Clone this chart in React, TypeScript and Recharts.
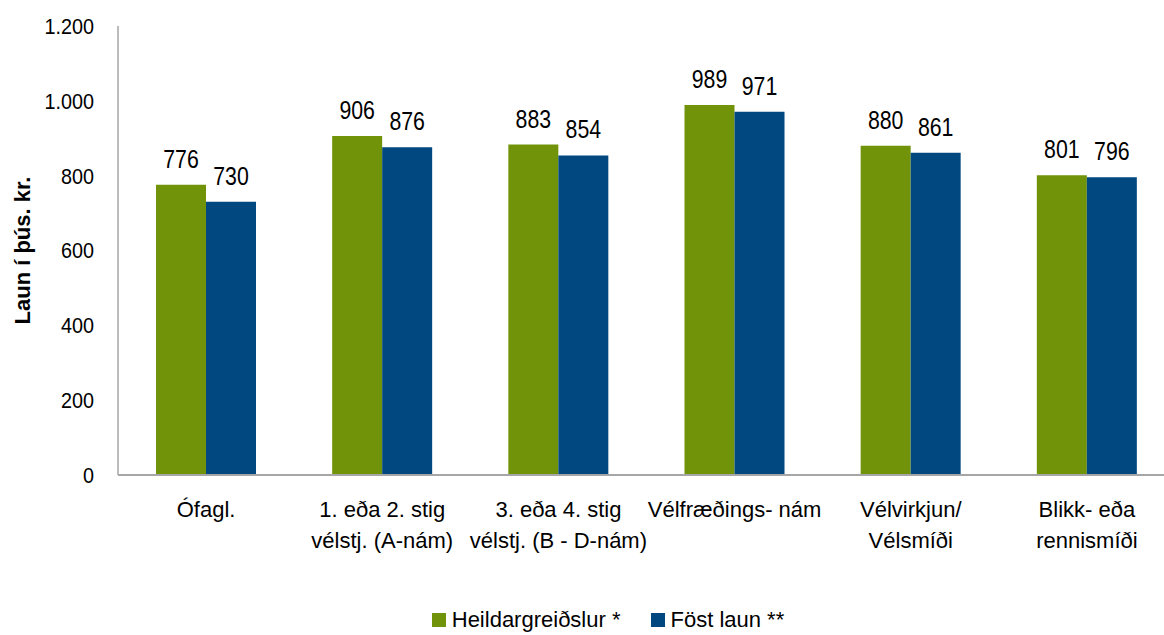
import { BarChart, Bar, XAxis, YAxis, Legend, LabelList } from "recharts";

const FONT = '"Liberation Sans", Arial, sans-serif';

const categories: string[][] = [
  ["Ófagl."],
  ["1. eða 2. stig", "vélstj. (A-nám)"],
  ["3. eða 4. stig", "vélstj. (B - D-nám)"],
  ["Vélfræðings- nám"],
  ["Vélvirkjun/", "Vélsmíði"],
  ["Blikk- eða", "rennismíði"],
];
const heildargreidslur = [776, 906, 883, 989, 880, 801];
const fostLaun = [730, 876, 854, 971, 861, 796];
const yTicks = [0, 200, 400, 600, 800, 1000, 1200];

const GREEN = "#71930a";
const BLUE = "#00487f";
const AXIS = "#a6a6a6";

const data = categories.map((c, i) => ({
  name: c.join(" "),
  heild: heildargreidslur[i],
  fost: fostLaun[i],
}));

const formatNumber = (v: number) =>
  String(v).replace(/\B(?=(\d{3})+(?!\d))/g, ".");

function CategoryTick(props: any) {
  const { x, y, index } = props;
  const lines = categories[index] || [];
  return (
    <g transform={`translate(${x},${y})`}>
      {lines.map((l, i) => (
        <text
          key={i}
          x={0}
          y={34 + i * 31}
          textAnchor="middle"
          fill="#000"
          fontSize={22}
          fontFamily={FONT}
        >
          {l}
        </text>
      ))}
    </g>
  );
}

// narrower numbers, like the original's condensed font
function ValueTick(props: any) {
  const { x, y, payload } = props;
  return (
    <text
      transform={`translate(${x},${y}) scale(0.9,1)`}
      textAnchor="end"
      dominantBaseline="central"
      fill="#000"
      fontSize={22}
      fontFamily={FONT}
    >
      {formatNumber(payload.value)}
    </text>
  );
}

function BarValue(props: any) {
  const { x, y, width, value } = props;
  return (
    <text
      transform={`translate(${x + width / 2},${y - 17}) scale(0.82,1)`}
      textAnchor="middle"
      fill="#000"
      fontSize={26}
      fontFamily={FONT}
    >
      {value}
    </text>
  );
}

function YLabel(props: any) {
  const { viewBox } = props;
  const cx = 22;
  const cy = viewBox.y + viewBox.height / 2;
  return (
    <text
      transform={`translate(${cx},${cy}) rotate(-90)`}
      textAnchor="middle"
      dominantBaseline="central"
      fontSize={22}
      fontWeight="bold"
      fontFamily={FONT}
      fill="#000"
    >
      Laun í þús. kr.
    </text>
  );
}

function LegendContent() {
  const items = [
    { label: "Heildargreiðslur *", color: GREEN },
    { label: "Föst laun **", color: BLUE },
  ];
  return (
    <div
      style={{
        display: "flex",
        justifyContent: "center",
        alignItems: "center",
        height: 30,
        paddingLeft: 36,
        fontFamily: FONT,
        fontSize: 22,
        color: "#000",
      }}
    >
      {items.map((it) => (
        <div
          key={it.label}
          style={{ display: "flex", alignItems: "center", margin: "0 15px" }}
        >
          <span
            style={{
              display: "inline-block",
              width: 14,
              height: 14,
              background: it.color,
              marginRight: 6,
            }}
          />
          {it.label}
        </div>
      ))}
    </div>
  );
}

export default function App() {
  return (
    <div
      style={{
        position: "absolute",
        left: 0,
        top: 0,
        width: 1164,
        height: 635,
        overflow: "hidden",
        background: "#fff",
      }}
    >
      <BarChart
        width={1180}
        height={635}
        data={data}
        margin={{ top: 26, right: 5, left: 0, bottom: 0 }}
        barGap={0}
        barSize={50}
      >
        <XAxis
          dataKey="name"
          axisLine={{ stroke: AXIS, strokeWidth: 2 }}
          tickLine={false}
          tick={<CategoryTick />}
          height={130}
          interval={0}
        />
        <YAxis
          width={118}
          domain={[0, 1200]}
          ticks={yTicks}
          axisLine={{ stroke: AXIS, strokeWidth: 1.5 }}
          tickLine={false}
          tickSize={8}
          tickMargin={16}
          tick={<ValueTick />}
          label={<YLabel />}
        />
        <Legend
          verticalAlign="bottom"
          height={30}
          wrapperStyle={{ left: 0, width: 1180, bottom: 0 }}
          content={<LegendContent />}
        />
        <Bar dataKey="heild" fill={GREEN} isAnimationActive={false}>
          <LabelList dataKey="heild" content={<BarValue />} />
        </Bar>
        <Bar dataKey="fost" fill={BLUE} isAnimationActive={false}>
          <LabelList dataKey="fost" content={<BarValue />} />
        </Bar>
      </BarChart>
    </div>
  );
}
